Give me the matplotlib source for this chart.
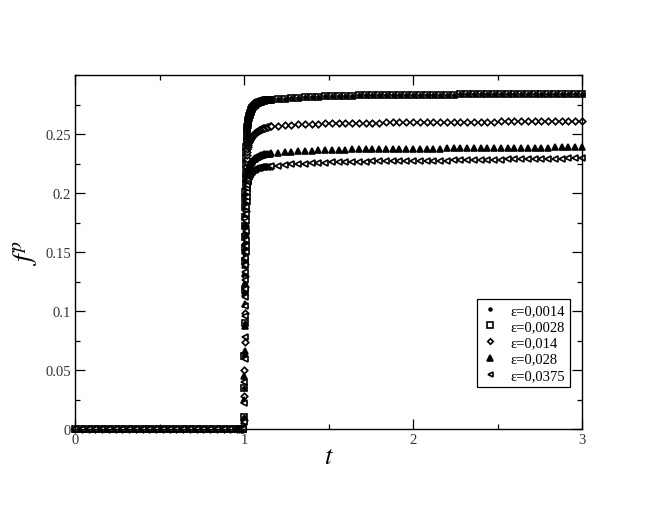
import numpy as np
import matplotlib
matplotlib.use("Agg")
import matplotlib.pyplot as plt
from matplotlib.ticker import MultipleLocator

plt.rcParams["font.family"] = ["Liberation Serif", "DejaVu Serif"]
plt.rcParams["mathtext.fontset"] = "stix"

# sample times
t_slow = list(np.round(np.arange(0.0, 0.961, 0.04), 2)) + [0.97, 0.98, 0.985, 0.99, 0.995]
t_fast = [1.000, 1.001, 1.002, 1.003, 1.004, 1.005,
          1.0055, 1.006, 1.0065, 1.007, 1.0075, 1.008, 1.0085, 1.009, 1.0095, 1.010,
          1.011, 1.012, 1.013, 1.014, 1.015, 1.016,
          1.0175, 1.019, 1.0205, 1.022, 1.024, 1.026, 1.028, 1.030,
          1.033, 1.036, 1.039, 1.042, 1.046, 1.050,
          1.054, 1.058, 1.0625, 1.067, 1.072, 1.077,
          1.0825, 1.088, 1.094, 1.100, 1.1065, 1.113,
          1.120, 1.127, 1.1345, 1.142, 1.151]
t_plat = list(np.round(np.arange(1.16, 3.001, 0.04), 2))

labels = ["ε=0,0014", "ε=0,0028", "ε=0,014", "ε=0,028", "ε=0,0375"]

# rise just after t = 1
fast_0028 = [0.010, 0.035, 0.062, 0.090, 0.118, 0.142,
             0.153, 0.163, 0.172, 0.180, 0.188, 0.195, 0.201, 0.207, 0.212, 0.217,
             0.224, 0.230, 0.235, 0.239, 0.243, 0.246,
             0.250, 0.253, 0.256, 0.258, 0.260, 0.262, 0.2635, 0.265,
             0.2665, 0.268, 0.269, 0.270, 0.271, 0.272,
             0.2728, 0.2735, 0.2742, 0.275, 0.2755, 0.276,
             0.2765, 0.277, 0.2773, 0.2775, 0.2778, 0.278,
             0.2783, 0.2785, 0.2786, 0.2787, 0.2788]
fast_014 = [0.008, 0.028, 0.050, 0.074, 0.098, 0.120,
            0.130, 0.140, 0.149, 0.157, 0.165, 0.172, 0.179, 0.185, 0.191, 0.196,
            0.204, 0.211, 0.217, 0.222, 0.226, 0.229,
            0.232, 0.235, 0.237, 0.239, 0.2405, 0.242, 0.243, 0.244,
            0.2448, 0.2455, 0.2462, 0.247, 0.2478, 0.2485,
            0.2493, 0.250, 0.2505, 0.251, 0.2515, 0.252,
            0.2525, 0.253, 0.2535, 0.254, 0.2544, 0.2548,
            0.2552, 0.2555, 0.2558, 0.2561, 0.2564]
fast_028 = [0.007, 0.025, 0.045, 0.066, 0.087, 0.106,
            0.115, 0.124, 0.132, 0.139, 0.146, 0.152, 0.158, 0.164, 0.169, 0.174,
            0.182, 0.189, 0.195, 0.200, 0.204, 0.208,
            0.211, 0.214, 0.216, 0.218, 0.2195, 0.221, 0.222, 0.223,
            0.2238, 0.2245, 0.2252, 0.226, 0.2266, 0.2272,
            0.2278, 0.2284, 0.2289, 0.2294, 0.2299, 0.2303,
            0.2307, 0.2311, 0.2315, 0.2318, 0.2321, 0.2324,
            0.2327, 0.2329, 0.2331, 0.2332, 0.2334]
fast_0375 = [0.006, 0.022, 0.040, 0.059, 0.078, 0.096,
             0.104, 0.112, 0.119, 0.126, 0.133, 0.139, 0.145, 0.150, 0.155, 0.160,
             0.168, 0.176, 0.182, 0.188, 0.193, 0.197,
             0.201, 0.204, 0.207, 0.209, 0.2105, 0.212, 0.2133, 0.2145,
             0.2154, 0.2162, 0.2169, 0.2175, 0.2181, 0.2186,
             0.2191, 0.2195, 0.2199, 0.2202, 0.2205, 0.2208,
             0.2211, 0.2213, 0.2215, 0.2217, 0.2219, 0.2220,
             0.2221, 0.2222, 0.2223, 0.2224, 0.2224]

# plateau, t = 1.16 ... 3.00
plat_0028 = [0.2790, 0.2795, 0.2800, 0.2804, 0.2808, 0.2811, 0.2814, 0.2817, 0.2819, 0.2821, 0.2823,
             0.2825, 0.2826, 0.2827, 0.2828, 0.2829, 0.2830, 0.2831, 0.2831, 0.2832, 0.2832, 0.2833,
             0.2833, 0.2833, 0.2834, 0.2834, 0.2834, 0.2834, 0.2835, 0.2835, 0.2835, 0.2835, 0.2835,
             0.2835, 0.2836, 0.2836, 0.2836, 0.2836, 0.2836, 0.2836, 0.2836, 0.2836, 0.2836, 0.2836,
             0.2836, 0.2836, 0.2836]
plat_014 = [0.2567, 0.2572, 0.2576, 0.2579, 0.2582, 0.2584, 0.2586, 0.2588, 0.2590, 0.2591, 0.2592,
            0.2593, 0.2594, 0.2595, 0.2596, 0.2597, 0.2597, 0.2598, 0.2598, 0.2599, 0.2599, 0.2600,
            0.2600, 0.2601, 0.2601, 0.2602, 0.2602, 0.2603, 0.2603, 0.2604, 0.2604, 0.2605, 0.2605,
            0.2605, 0.2606, 0.2606, 0.2606, 0.2607, 0.2607, 0.2607, 0.2608, 0.2608, 0.2608, 0.2609,
            0.2609, 0.2609, 0.2610]
plat_028 = [0.2335, 0.2341, 0.2346, 0.2350, 0.2354, 0.2357, 0.2360, 0.2362, 0.2364, 0.2366, 0.2367,
            0.2368, 0.2369, 0.2370, 0.2371, 0.2372, 0.2373, 0.2373, 0.2374, 0.2374, 0.2375, 0.2375,
            0.2376, 0.2376, 0.2377, 0.2377, 0.2378, 0.2378, 0.2379, 0.2379, 0.2380, 0.2380, 0.2381,
            0.2381, 0.2382, 0.2382, 0.2383, 0.2383, 0.2384, 0.2384, 0.2385, 0.2385, 0.2386, 0.2387,
            0.2388, 0.2389, 0.2390]
plat_0375 = [0.2225, 0.2231, 0.2237, 0.2242, 0.2246, 0.2250, 0.2253, 0.2256, 0.2258, 0.2260, 0.2262,
             0.2263, 0.2264, 0.2265, 0.2266, 0.2267, 0.2268, 0.2268, 0.2269, 0.2269, 0.2270, 0.2270,
             0.2271, 0.2272, 0.2273, 0.2274, 0.2275, 0.2276, 0.2277, 0.2278, 0.2279, 0.2280, 0.2281,
             0.2282, 0.2283, 0.2284, 0.2285, 0.2286, 0.2287, 0.2288, 0.2289, 0.2290, 0.2291, 0.2292,
             0.2293, 0.2295, 0.2297]

t = np.array(t_slow + t_fast + t_plat)
zero = [0.0] * len(t_slow)
f_0028 = zero + fast_0028 + plat_0028
f_0014 = list(f_0028)  # sits inside the squares, can't be told apart
f_014 = zero + fast_014 + plat_014
f_028 = zero + fast_028 + plat_028
f_0375 = zero + fast_0375 + plat_0375
series = [f_0014, f_0028, f_014, f_028, f_0375]

# marker, size, face colour
styles = [("o", 2.4, "black"), ("s", 5.0, "none"), ("D", 3.3, "white"),
          ("^", 4.5, "black"), ("<", 4.2, "white")]

fig = plt.figure(figsize=(6.54, 5.06), dpi=100)
ax = fig.add_axes([75 / 654, 76 / 506, 507 / 654, 354 / 506])

for y, lab, (m, ms, fc) in zip(series, labels, styles):
    ax.plot(t, y, ls="none", marker=m, ms=ms, mfc=fc, mec="black", mew=1.2,
            color="black", label=lab, clip_on=False)

ax.set_xlim(0, 3)
ax.set_ylim(0, 0.3)
ax.set_xticks([0, 1, 2, 3])
ax.set_xticklabels(["0", "1", "2", "3"])
ax.set_yticks([0, 0.05, 0.1, 0.15, 0.2, 0.25])
ax.set_yticklabels(["0", "0.05", "0.1", "0.15", "0.2", "0.25"])
ax.xaxis.set_minor_locator(MultipleLocator(0.5))
ax.yaxis.set_minor_locator(MultipleLocator(0.025))
ax.tick_params(which="both", direction="in", top=True, right=True,
               labelsize=10.5, labelcolor="#333333", pad=3, width=0.9)
ax.tick_params(which="major", length=7)
ax.tick_params(which="minor", length=3.5)
for s in ax.spines.values():
    s.set_linewidth(1.0)

ax.set_xlabel(r"$t$", fontsize=19, labelpad=0)
ax.set_ylabel(r"$f^{p}$", fontsize=20, labelpad=3)

leg = ax.legend(loc="lower right", bbox_to_anchor=(0.976, 0.119), fontsize=10.5,
                frameon=True, fancybox=False, framealpha=1, edgecolor="black",
                handlelength=1.0, handletextpad=0.9, labelspacing=0.2,
                borderpad=0.35, borderaxespad=0, markerscale=0.85)
leg.get_frame().set_linewidth(0.9)

fig.savefig("out.png", dpi=100)
